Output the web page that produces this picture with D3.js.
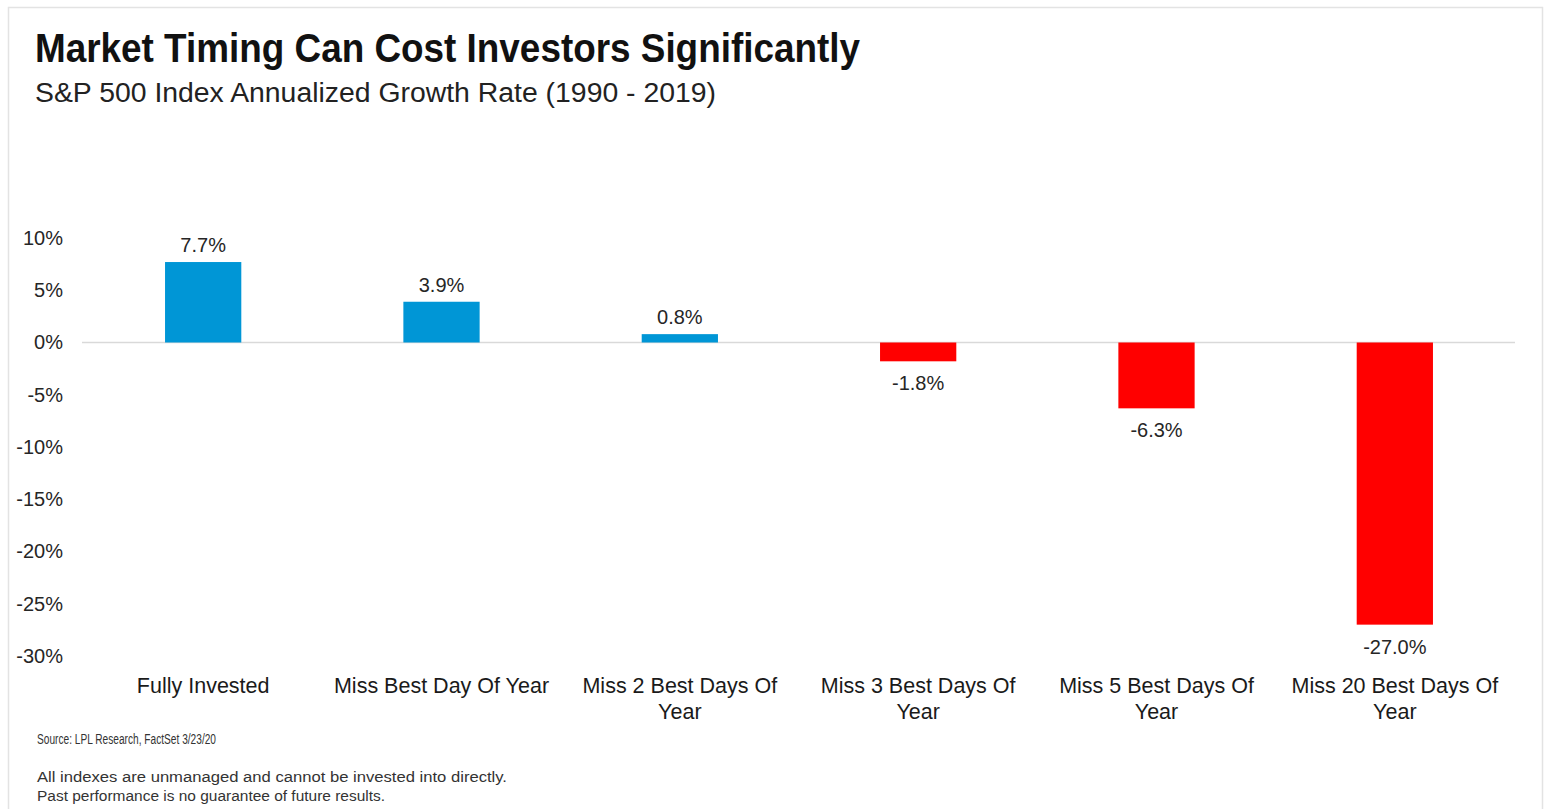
<!DOCTYPE html>
<html>
<head>
<meta charset="utf-8">
<script src="https://cdn.jsdelivr.net/npm/d3@7"></script>
<style>
  html, body { margin: 0; padding: 0; background: #fff; }
  svg { display: block; font-family: "Liberation Sans", Arial, sans-serif; }
</style>
</head>
<body>
<svg id="chart" width="1546" height="809"></svg>
<script>
const categories = [
  "Fully Invested",
  "Miss Best Day Of Year",
  "Miss 2 Best Days Of Year",
  "Miss 3 Best Days Of Year",
  "Miss 5 Best Days Of Year",
  "Miss 20 Best Days Of Year"
];
const categoryLines = [
  ["Fully Invested"],
  ["Miss Best Day Of Year"],
  ["Miss 2 Best Days Of", "Year"],
  ["Miss 3 Best Days Of", "Year"],
  ["Miss 5 Best Days Of", "Year"],
  ["Miss 20 Best Days Of", "Year"]
];
const values = [7.7, 3.9, 0.8, -1.8, -6.3, -27.0];
const tickValues = [10, 5, 0, -5, -10, -15, -20, -25, -30];

const title = "Market Timing Can Cost Investors Significantly";
const subtitle = "S&P 500 Index Annualized Growth Rate (1990 - 2019)";
const source = "Source: LPL Research, FactSet 3/23/20";
const notes = [
  "All indexes are unmanaged and cannot be invested into directly.",
  "Past performance is no guarantee of future results."
];

const svg = d3.select("#chart");

// frame
svg.append("rect").attr("x", 8.5).attr("y", 7.5).attr("width", 1534).attr("height", 820)
  .attr("fill", "#fff").attr("stroke", "#e3e3e3").attr("stroke-width", 1.5);

// titles
svg.append("text").attr("x", 35).attr("y", 62).text(title)
  .attr("font-size", 40).attr("font-weight", "bold").attr("fill", "#111")
  .attr("textLength", 825).attr("lengthAdjust", "spacingAndGlyphs");
svg.append("text").attr("x", 35).attr("y", 102).text(subtitle)
  .attr("font-size", 27).attr("fill", "#222")
  .attr("textLength", 681).attr("lengthAdjust", "spacingAndGlyphs");

// scales
const x = d3.scaleBand().domain(categories).range([84, 1514])
  .paddingInner(0.68).paddingOuter(0.34);
const y = d3.scaleLinear().domain([-30, 10]).range([656, 238]);

// y axis (labels only)
const yAxis = d3.axisLeft(y).tickValues(tickValues).tickSize(0).tickPadding(0)
  .tickFormat(d => d + "%");
const gy = svg.append("g").attr("transform", "translate(63,0)").call(yAxis);
gy.select(".domain").remove();
gy.selectAll("text").attr("font-size", 20).attr("fill", "#262626")
  .attr("font-family", "\"Liberation Sans\", Arial, sans-serif");

// zero line
svg.append("line").attr("x1", 82).attr("x2", 1515)
  .attr("y1", y(0)).attr("y2", y(0))
  .attr("stroke", "#d9d9d9").attr("stroke-width", 1.5);

// bars
svg.append("g").selectAll("rect").data(values).join("rect")
  .attr("x", (d, i) => x(categories[i]))
  .attr("width", x.bandwidth())
  .attr("y", d => y(Math.max(0, d)))
  .attr("height", d => Math.abs(y(d) - y(0)))
  .attr("fill", d => d >= 0 ? "#0096d6" : "#ff0000");

// value labels
svg.append("g").selectAll("text").data(values).join("text")
  .attr("x", (d, i) => x(categories[i]) + x.bandwidth() / 2)
  .attr("y", d => d >= 0 ? y(d) - 10 : y(d) + 29)
  .attr("text-anchor", "middle")
  .attr("font-size", 20).attr("fill", "#262626")
  .text(d => d.toFixed(1) + "%");

// category labels
const cg = svg.append("g");
categoryLines.forEach((lines, i) => {
  const cx = x(categories[i]) + x.bandwidth() / 2;
  lines.forEach((ln, j) => {
    cg.append("text").attr("x", cx).attr("y", 693 + j * 26)
      .attr("text-anchor", "middle").attr("font-size", 21.5).attr("fill", "#1a1a1a")
      .text(ln);
  });
});

// footnotes
svg.append("text").attr("x", 37).attr("y", 744).text(source)
  .attr("font-size", 14).attr("fill", "#333")
  .attr("textLength", 179).attr("lengthAdjust", "spacingAndGlyphs");
notes.forEach((n, i) => {
  svg.append("text").attr("x", 37).attr("y", 782 + i * 19).text(n)
    .attr("font-size", 14).attr("fill", "#333")
    .attr("textLength", i === 0 ? 470 : 348).attr("lengthAdjust", "spacingAndGlyphs");
});
</script>
</body>
</html>
